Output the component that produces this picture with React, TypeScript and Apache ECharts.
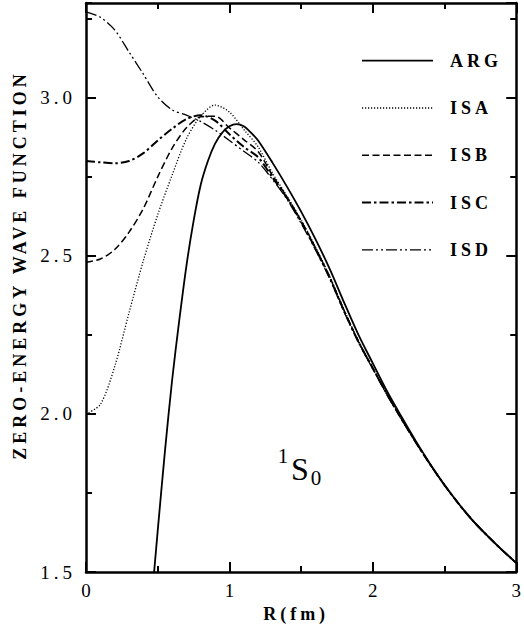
import React, { useEffect, useRef } from "react";
import * as echarts from "echarts";

const SERIES_NAMES = ["ARG", "ISA", "ISB", "ISC", "ISD"];
const Y_TITLE = "ZERO-ENERGY WAVE FUNCTION";
const X_TITLE = "R(fm)";
const Y_TICK_LABELS = ["1.5", "2.0", "2.5", "3.0"];

// R grid (fm) shared by the IS* curves
const R_IS = [0, 0.1, 0.2, 0.3, 0.4, 0.5, 0.6, 0.7, 0.8, 0.9, 1.0, 1.1, 1.2, 1.3, 1.4, 1.5,
  1.6, 1.7, 1.8, 1.9, 2.0, 2.1, 2.2, 2.3, 2.4, 2.5, 2.6, 2.7, 2.8, 2.9, 3.0];

const ISA = [2.0, 2.03, 2.15, 2.32, 2.485, 2.63, 2.755, 2.87, 2.942, 2.977, 2.955, 2.9, 2.845, 2.762, 2.69,
  2.614, 2.528, 2.435, 2.329, 2.231, 2.146, 2.062, 1.985, 1.91, 1.84, 1.775, 1.715, 1.661, 1.614, 1.57, 1.529];
const ISB = [2.48, 2.49, 2.52, 2.575, 2.65, 2.75, 2.84, 2.905, 2.94, 2.942, 2.905, 2.868, 2.83, 2.755, 2.687,
  2.611, 2.526, 2.432, 2.327, 2.229, 2.145, 2.061, 1.984, 1.91, 1.84, 1.775, 1.715, 1.661, 1.614, 1.57, 1.529];
const ISC = [2.8, 2.796, 2.793, 2.8, 2.825, 2.865, 2.902, 2.933, 2.945, 2.928, 2.885, 2.845, 2.812, 2.748, 2.684,
  2.608, 2.523, 2.43, 2.325, 2.228, 2.144, 2.061, 1.984, 1.91, 1.84, 1.775, 1.715, 1.661, 1.614, 1.57, 1.529];
const ISD = [3.272, 3.255, 3.215, 3.145, 3.075, 3.003, 2.962, 2.945, 2.925, 2.898, 2.865, 2.831, 2.797, 2.742, 2.68,
  2.603, 2.519, 2.427, 2.322, 2.226, 2.142, 2.06, 1.983, 1.91, 1.84, 1.775, 1.715, 1.661, 1.614, 1.57, 1.529];

// ARG curve starts where it enters the frame
const R_ARG = [0.475, 0.5, 0.55, 0.6, 0.65, 0.7, 0.75, 0.8, 0.85, 0.9, 0.95, 1.0, 1.05, 1.1, 1.15, 1.2, 1.3, 1.4,
  1.5, 1.6, 1.7, 1.8, 1.9, 2.0, 2.1, 2.2, 2.3, 2.4, 2.5, 2.6, 2.7, 2.8, 2.9, 3.0];
const ARG = [1.5, 1.63, 1.88, 2.105, 2.295, 2.468, 2.61, 2.725, 2.8, 2.855, 2.89, 2.91, 2.917, 2.91, 2.89, 2.865, 2.795, 2.72,
  2.64, 2.553, 2.458, 2.352, 2.25, 2.16, 2.071, 1.991, 1.914, 1.842, 1.775, 1.715, 1.661, 1.614, 1.57, 1.529];

const FONT = "Liberation Serif";

const pairs = (xs: number[], ys: number[]) => xs.map((x, i) => [x, ys[i]]);

const LINE_STYLES: Record<string, { width: number; dash: number[] | null }> = {
  ARG: { width: 1.8, dash: null },
  ISA: { width: 1.3, dash: [1.2, 1.8] },
  ISB: { width: 1.5, dash: [7, 3.5] },
  ISC: { width: 2, dash: [9, 3, 2.5, 3] },
  ISD: { width: 1.3, dash: [11, 3, 2, 3, 2, 3] },
};

export default function App() {
  const ref = useRef<HTMLDivElement>(null);

  useEffect(() => {
    const el = ref.current;
    if (!el) return;
    const chart = echarts.init(el, null, { renderer: "svg" });

    const black = "#000";
    const lineBase = { color: black, width: 2.5 };
    const tickStyle = { color: black, width: 2 };

    const xAxisBase = {
      type: "value",
      min: 0,
      max: 3,
      interval: 1,
      splitLine: { show: false },
      axisLine: { show: true, lineStyle: lineBase },
      axisTick: { show: true, inside: true, length: 10, lineStyle: tickStyle },
      minorTick: { show: true, splitNumber: 2, length: 6, lineStyle: tickStyle },
      minorSplitLine: { show: false },
    };
    const yMajor = {
      type: "value",
      min: 1.5,
      max: 3.3,
      interval: 0.5,
      splitLine: { show: false },
      axisTick: { show: true, inside: true, length: 10, lineStyle: tickStyle },
    };
    const yMinor = {
      type: "value",
      min: 1.5,
      max: 3.3,
      interval: 0.25,
      splitLine: { show: false },
      axisLine: { show: false },
      axisLabel: { show: false },
      axisTick: { show: true, inside: true, length: 6, lineStyle: tickStyle },
    };

    const dataFor: Record<string, number[][]> = {
      ARG: pairs(R_ARG, ARG),
      ISA: pairs(R_IS, ISA),
      ISB: pairs(R_IS, ISB),
      ISC: pairs(R_IS, ISC),
      ISD: pairs(R_IS, ISD),
    };

    const txt = (text: string, x: number, y: number, size: number, bold: boolean, align: string, extra: any = {}) => ({
      type: "text",
      x,
      y,
      silent: true,
      ...extra,
      style: {
        text,
        fontFamily: FONT,
        fontSize: size,
        fontWeight: bold ? "bold" : "normal",
        fill: black,
        align,
        verticalAlign: "middle",
      },
    });

    // legend drawn as graphic elements (line sample + bold label)
    const legendTop = 60.7;
    const legendStep = 47.3;
    const legendGraphics: any[] = [];
    SERIES_NAMES.forEach((name, i) => {
      const y = legendTop + i * legendStep;
      const st = LINE_STYLES[name];
      legendGraphics.push({
        type: "line",
        silent: true,
        shape: { x1: 362, y1: y, x2: 433, y2: y },
        style: { stroke: black, lineWidth: st.width, lineDash: st.dash || undefined, lineCap: "butt" },
      });
      legendGraphics.push(txt(name, 450, y, 18, true, "left"));
    });

    const option: any = {
      animation: false,
      backgroundColor: "#fff",
      textStyle: { fontFamily: FONT, color: black },
      grid: { left: 86, right: 4, top: 3, bottom: 63, containLabel: false },
      xAxis: [
        {
          ...xAxisBase,
          position: "bottom",
          axisLabel: { show: true, color: black, fontFamily: FONT, fontSize: 19, margin: 9 },
          name: X_TITLE,
          nameLocation: "middle",
          nameGap: 28,
          nameTextStyle: {
            fontFamily: FONT,
            fontSize: 18,
            fontWeight: "bold",
            color: black,
            padding: [0, 10, 0, 0],
          },
        },
        { ...xAxisBase, position: "top", axisLabel: { show: false } },
      ],
      yAxis: [
        {
          ...yMajor,
          position: "left",
          axisLine: { show: true, lineStyle: lineBase },
          axisLabel: {
            show: true,
            color: black,
            fontFamily: FONT,
            fontSize: 19,
            margin: 10,
            showMaxLabel: false,
            formatter: (v: number) =>
              Y_TICK_LABELS.includes(v.toFixed(1)) && Math.abs(v * 2 - Math.round(v * 2)) < 1e-6 ? v.toFixed(1) : "",
          },
        },
        { ...yMinor, position: "left" },
        { ...yMajor, position: "right", axisLine: { show: true, lineStyle: lineBase }, axisLabel: { show: false } },
        { ...yMinor, position: "right" },
      ],
      graphic: [
        txt(Y_TITLE, 20, 265, 18, true, "center", { rotation: Math.PI / 2 }),
        txt("1", 283, 455.5, 21, false, "center"),
        txt("S", 300, 468.5, 32, false, "center"),
        txt("0", 316, 478, 21, false, "center"),
        ...legendGraphics,
      ],
      series: SERIES_NAMES.map((name) => ({
        name,
        type: "line",
        xAxisIndex: 0,
        yAxisIndex: 0,
        data: dataFor[name],
        symbol: "none",
        showSymbol: false,
        smooth: 0.3,
        silent: true,
        lineStyle: {
          color: black,
          width: LINE_STYLES[name].width,
          type: LINE_STYLES[name].dash || "solid",
          cap: "butt",
        },
        itemStyle: { color: black },
      })),
    };

    chart.setOption(option);

    const spacedTexts = [Y_TITLE, X_TITLE, ...SERIES_NAMES, ...Y_TICK_LABELS];
    const polishTexts = () => {
      el.querySelectorAll("text").forEach((t) => {
        const s = (t.textContent || "").trim();
        (t as SVGTextElement).style.fontFamily = "'Liberation Serif', serif";
        if (spacedTexts.includes(s)) t.setAttribute("letter-spacing", "4");
      });
    };
    polishTexts();
    chart.on("finished", polishTexts);
    const raf = requestAnimationFrame(polishTexts);
    const tm = setTimeout(polishTexts, 60);

    return () => {
      cancelAnimationFrame(raf);
      clearTimeout(tm);
      chart.dispose();
    };
  }, []);

  return (
    <div
      ref={ref}
      style={{ position: "fixed", left: 0, top: 0, width: 524, height: 635, background: "#fff" }}
    />
  );
}
